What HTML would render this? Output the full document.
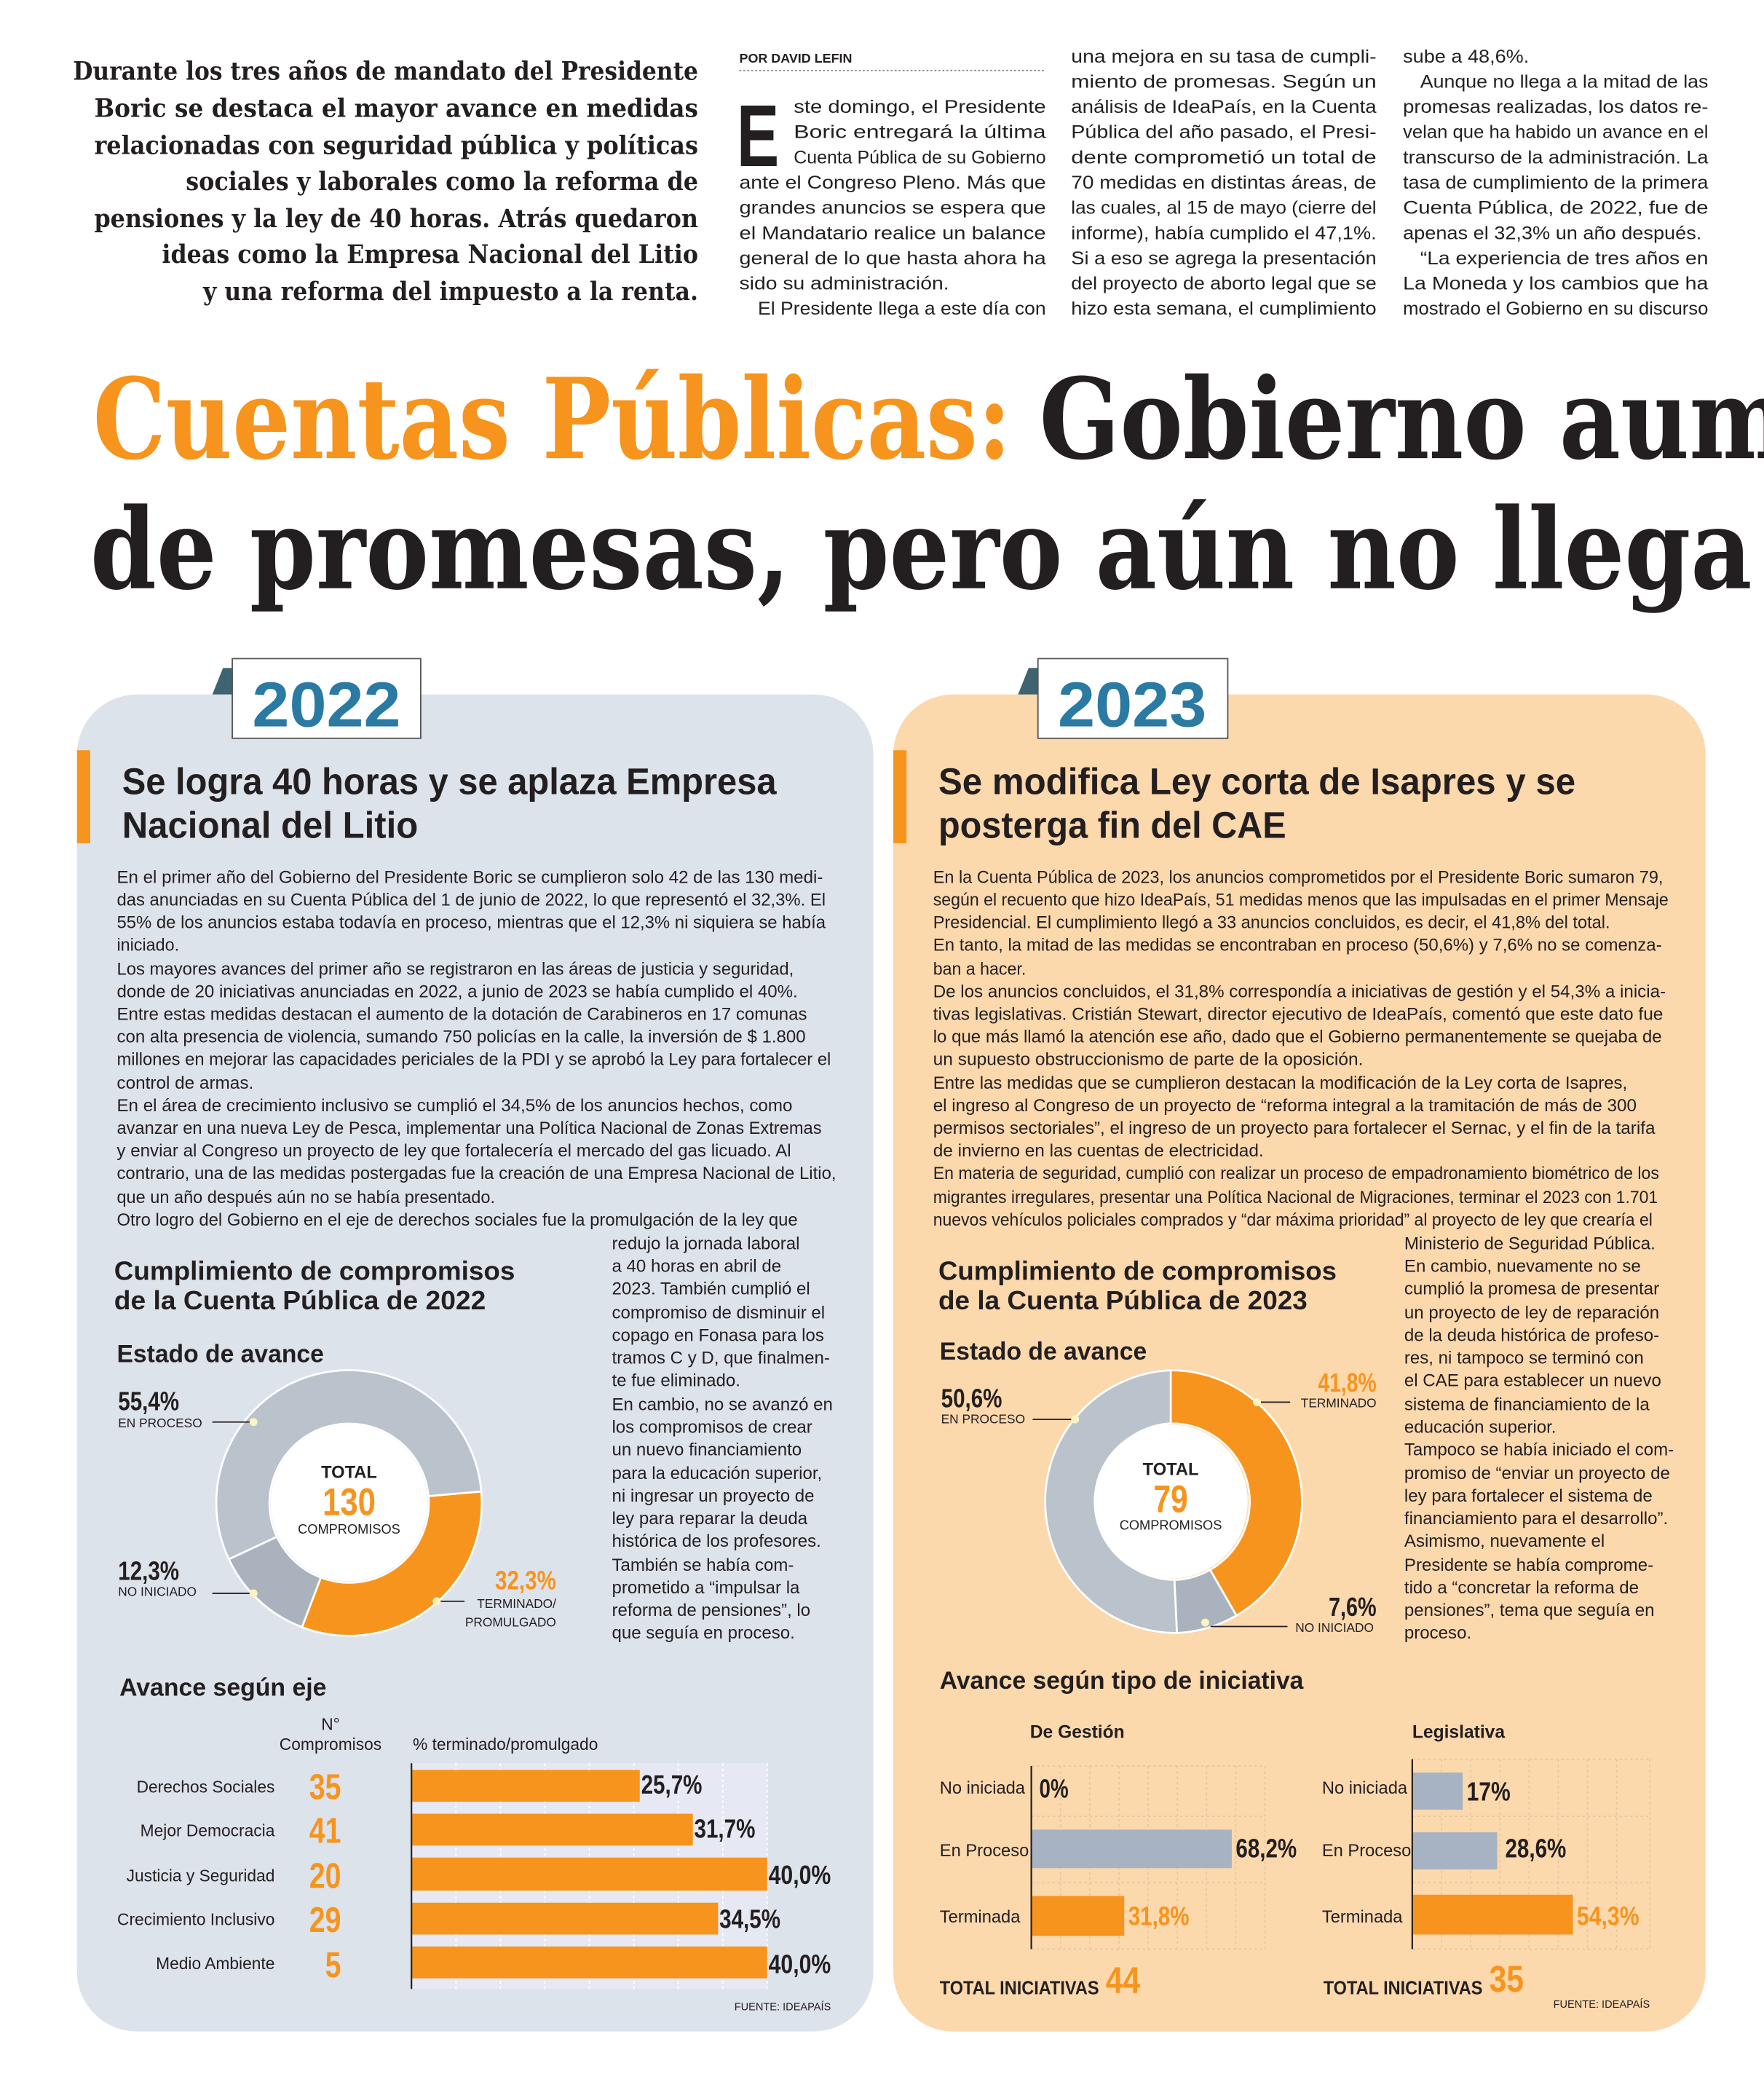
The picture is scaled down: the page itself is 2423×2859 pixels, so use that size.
<!DOCTYPE html>
<html><head><meta charset="utf-8"><style>
html,body{margin:0;padding:0;background:#fff}
svg{display:block}
.ser{font-family:"DejaVu Serif","Liberation Serif",serif;font-weight:bold}
.s{font-family:"Liberation Sans Narrow","Liberation Sans",sans-serif;fill:#231f20}
.b{font-size:13.2px}
.c{font-size:13.6px}
.h{font-weight:bold}
.o{fill:#f7941d}
</style></head><body>
<svg width="2423" height="2859" viewBox="0 0 1329 1568" xmlns="http://www.w3.org/2000/svg">
<rect width="1329" height="1568" fill="#fff"/>
<!-- intro -->
<g class="ser" font-size="19" fill="#231f20" text-anchor="end">
<text x="526" y="60" textLength="471" lengthAdjust="spacingAndGlyphs">Durante los tres años de mandato del Presidente</text>
<text x="526" y="88" textLength="455" lengthAdjust="spacingAndGlyphs">Boric se destaca el mayor avance en medidas</text>
<text x="526" y="116" textLength="455" lengthAdjust="spacingAndGlyphs">relacionadas con seguridad pública y políticas</text>
<text x="526" y="143" textLength="386" lengthAdjust="spacingAndGlyphs">sociales y laborales como la reforma de</text>
<text x="526" y="171" textLength="455" lengthAdjust="spacingAndGlyphs">pensiones y la ley de 40 horas. Atrás quedaron</text>
<text x="526" y="198" textLength="404" lengthAdjust="spacingAndGlyphs">ideas como la Empresa Nacional del Litio</text>
<text x="526" y="226" textLength="373" lengthAdjust="spacingAndGlyphs">y una reforma del impuesto a la renta.</text>
</g>
<!-- columns -->
<text class="s h" x="557" y="47" font-size="9.5" textLength="85" lengthAdjust="spacingAndGlyphs">POR DAVID LEFIN</text>
<line x1="557" y1="53" x2="788" y2="53" stroke="#888" stroke-width="1" stroke-dasharray="1.5,1.5"/>
<text class="s" x="555" y="125" font-size="66" font-weight="bold" textLength="32" lengthAdjust="spacingAndGlyphs">E</text>
<g class="s c">
<text x="598" y="85" textLength="190" lengthAdjust="spacingAndGlyphs">ste domingo, el Presidente</text>
<text x="598" y="104" textLength="190" lengthAdjust="spacingAndGlyphs">Boric entregará la última</text>
<text x="598" y="123" textLength="190" lengthAdjust="spacingAndGlyphs">Cuenta Pública de su Gobierno</text>
<text x="557" y="142" textLength="231" lengthAdjust="spacingAndGlyphs">ante el Congreso Pleno. Más que</text>
<text x="557" y="161" textLength="231" lengthAdjust="spacingAndGlyphs">grandes anuncios se espera que</text>
<text x="557" y="180" textLength="231" lengthAdjust="spacingAndGlyphs">el Mandatario realice un balance</text>
<text x="557" y="199" textLength="231" lengthAdjust="spacingAndGlyphs">general de lo que hasta ahora ha</text>
<text x="557" y="218" textLength="158" lengthAdjust="spacingAndGlyphs">sido su administración.</text>
<text x="571" y="237" textLength="217" lengthAdjust="spacingAndGlyphs">El Presidente llega a este día con</text>

<text x="807" y="47" textLength="230" lengthAdjust="spacingAndGlyphs">una mejora en su tasa de cumpli-</text>
<text x="807" y="66" textLength="230" lengthAdjust="spacingAndGlyphs">miento de promesas. Según un</text>
<text x="807" y="85" textLength="230" lengthAdjust="spacingAndGlyphs">análisis de IdeaPaís, en la Cuenta</text>
<text x="807" y="104" textLength="230" lengthAdjust="spacingAndGlyphs">Pública del año pasado, el Presi-</text>
<text x="807" y="123" textLength="230" lengthAdjust="spacingAndGlyphs">dente comprometió un total de</text>
<text x="807" y="142" textLength="230" lengthAdjust="spacingAndGlyphs">70 medidas en distintas áreas, de</text>
<text x="807" y="161" textLength="230" lengthAdjust="spacingAndGlyphs">las cuales, al 15 de mayo (cierre del</text>
<text x="807" y="180" textLength="230" lengthAdjust="spacingAndGlyphs">informe), había cumplido el 47,1%.</text>
<text x="807" y="199" textLength="230" lengthAdjust="spacingAndGlyphs">Si a eso se agrega la presentación</text>
<text x="807" y="218" textLength="230" lengthAdjust="spacingAndGlyphs">del proyecto de aborto legal que se</text>
<text x="807" y="237" textLength="230" lengthAdjust="spacingAndGlyphs">hizo esta semana, el cumplimiento</text>

<text x="1057" y="47" textLength="95" lengthAdjust="spacingAndGlyphs">sube a 48,6%.</text>
<text x="1070" y="66" textLength="217" lengthAdjust="spacingAndGlyphs">Aunque no llega a la mitad de las</text>
<text x="1057" y="85" textLength="230" lengthAdjust="spacingAndGlyphs">promesas realizadas, los datos re-</text>
<text x="1057" y="104" textLength="230" lengthAdjust="spacingAndGlyphs">velan que ha habido un avance en el</text>
<text x="1057" y="123" textLength="230" lengthAdjust="spacingAndGlyphs">transcurso de la administración. La</text>
<text x="1057" y="142" textLength="230" lengthAdjust="spacingAndGlyphs">tasa de cumplimiento de la primera</text>
<text x="1057" y="161" textLength="230" lengthAdjust="spacingAndGlyphs">Cuenta Pública, de 2022, fue de</text>
<text x="1057" y="180" textLength="225" lengthAdjust="spacingAndGlyphs">apenas el 32,3% un año después.</text>
<text x="1070" y="199" textLength="217" lengthAdjust="spacingAndGlyphs">“La experiencia de tres años en</text>
<text x="1057" y="218" textLength="230" lengthAdjust="spacingAndGlyphs">La Moneda y los cambios que ha</text>
<text x="1057" y="237" textLength="230" lengthAdjust="spacingAndGlyphs">mostrado el Gobierno en su discurso</text>
</g>
<!-- title -->
<g class="ser" font-size="84">
<text x="70" y="345" fill="#f7941d" textLength="692" lengthAdjust="spacingAndGlyphs">Cuentas Públicas:</text>
<text x="783" y="345" fill="#231f20" textLength="565" lengthAdjust="spacingAndGlyphs">Gobierno aum</text>
<text x="68" y="443" fill="#231f20" textLength="1252" lengthAdjust="spacingAndGlyphs">de promesas, pero aún no llega</text>
</g>
<!-- panels -->
<rect x="58" y="523" width="600" height="1007" rx="45" fill="#dde3eb"/>
<rect x="673" y="523" width="612" height="1007" rx="45" fill="#fcd8ad"/>
<!-- tabs -->
<polygon points="160,523 168,503 175,503 175,523" fill="#3d6470"/>
<rect x="175" y="496" width="142" height="60" fill="#fff" stroke="#555" stroke-width="1"/>
<text x="246" y="547" text-anchor="middle" font-family="Liberation Sans Narrow,Liberation Sans,sans-serif" font-weight="bold" font-size="48" fill="#2a7aa3" textLength="112" lengthAdjust="spacingAndGlyphs">2022</text>
<polygon points="767,523 775,503 782,503 782,523" fill="#3d6470"/>
<rect x="782" y="496" width="143" height="60" fill="#fff" stroke="#555" stroke-width="1"/>
<text x="853" y="547" text-anchor="middle" font-family="Liberation Sans Narrow,Liberation Sans,sans-serif" font-weight="bold" font-size="48" fill="#2a7aa3" textLength="112" lengthAdjust="spacingAndGlyphs">2023</text>
<rect x="58" y="565" width="10" height="70" fill="#f7941d"/>
<rect x="673" y="565" width="10" height="70" fill="#f7941d"/>
<!-- headings -->
<g class="s h" font-size="28">
<text x="92" y="598" textLength="493" lengthAdjust="spacingAndGlyphs">Se logra 40 horas y se aplaza Empresa</text>
<text x="92" y="631" textLength="223" lengthAdjust="spacingAndGlyphs">Nacional del Litio</text>
<text x="707" y="598" textLength="480" lengthAdjust="spacingAndGlyphs">Se modifica Ley corta de Isapres y se</text>
<text x="707" y="631" textLength="262" lengthAdjust="spacingAndGlyphs">posterga fin del CAE</text>
</g>
<!-- left body -->
<g class="s b">
<text x="88" y="665" textLength="532" lengthAdjust="spacingAndGlyphs">En el primer año del Gobierno del Presidente Boric se cumplieron solo 42 de las 130 medi-</text>
<text x="88" y="682" textLength="534" lengthAdjust="spacingAndGlyphs">das anunciadas en su Cuenta Pública del 1 de junio de 2022, lo que representó el 32,3%. El</text>
<text x="88" y="699" textLength="534" lengthAdjust="spacingAndGlyphs">55% de los anuncios estaba todavía en proceso, mientras que el 12,3% ni siquiera se había</text>
<text x="88" y="716" textLength="47" lengthAdjust="spacingAndGlyphs">iniciado.</text>
<text x="88" y="734" textLength="510" lengthAdjust="spacingAndGlyphs">Los mayores avances del primer año se registraron en las áreas de justicia y seguridad,</text>
<text x="88" y="751" textLength="513" lengthAdjust="spacingAndGlyphs">donde de 20 iniciativas anunciadas en 2022, a junio de 2023 se había cumplido el 40%.</text>
<text x="88" y="768" textLength="520" lengthAdjust="spacingAndGlyphs">Entre estas medidas destacan el aumento de la dotación de Carabineros en 17 comunas</text>
<text x="88" y="785" textLength="519" lengthAdjust="spacingAndGlyphs">con alta presencia de violencia, sumando 750 policías en la calle, la inversión de $ 1.800</text>
<text x="88" y="802" textLength="538" lengthAdjust="spacingAndGlyphs">millones en mejorar las capacidades periciales de la PDI y se aprobó la Ley para fortalecer el</text>
<text x="88" y="820" textLength="103" lengthAdjust="spacingAndGlyphs">control de armas.</text>
<text x="88" y="837" textLength="509" lengthAdjust="spacingAndGlyphs">En el área de crecimiento inclusivo se cumplió el 34,5% de los anuncios hechos, como</text>
<text x="88" y="854" textLength="531" lengthAdjust="spacingAndGlyphs">avanzar en una nueva Ley de Pesca, implementar una Política Nacional de Zonas Extremas</text>
<text x="88" y="871" textLength="508" lengthAdjust="spacingAndGlyphs">y enviar al Congreso un proyecto de ley que fortalecería el mercado del gas licuado. Al</text>
<text x="88" y="888" textLength="542" lengthAdjust="spacingAndGlyphs">contrario, una de las medidas postergadas fue la creación de una Empresa Nacional de Litio,</text>
<text x="88" y="906" textLength="285" lengthAdjust="spacingAndGlyphs">que un año después aún no se había presentado.</text>
<text x="88" y="923" textLength="513" lengthAdjust="spacingAndGlyphs">Otro logro del Gobierno en el eje de derechos sociales fue la promulgación de la ley que</text>
</g>
<g class="s b">
<text x="461" y="941">redujo la jornada laboral</text>
<text x="461" y="958">a 40 horas en abril de</text>
<text x="461" y="975">2023. También cumplió el</text>
<text x="461" y="993">compromiso de disminuir el</text>
<text x="461" y="1010">copago en Fonasa para los</text>
<text x="461" y="1027">tramos C y D, que finalmen-</text>
<text x="461" y="1044">te fue eliminado.</text>
<text x="461" y="1062">En cambio, no se avanzó en</text>
<text x="461" y="1079">los compromisos de crear</text>
<text x="461" y="1096">un nuevo financiamiento</text>
<text x="461" y="1114">para la educación superior,</text>
<text x="461" y="1131">ni ingresar un proyecto de</text>
<text x="461" y="1148">ley para reparar la deuda</text>
<text x="461" y="1165">histórica de los profesores.</text>
<text x="461" y="1183">También se había com-</text>
<text x="461" y="1200">prometido a “impulsar la</text>
<text x="461" y="1217">reforma de pensiones”, lo</text>
<text x="461" y="1234">que seguía en proceso.</text>
</g>
<!-- right body -->
<g class="s b">
<text x="703" y="665" textLength="550" lengthAdjust="spacingAndGlyphs">En la Cuenta Pública de 2023, los anuncios comprometidos por el Presidente Boric sumaron 79,</text>
<text x="703" y="682" textLength="554" lengthAdjust="spacingAndGlyphs">según el recuento que hizo IdeaPaís, 51 medidas menos que las impulsadas en el primer Mensaje</text>
<text x="703" y="699" textLength="510" lengthAdjust="spacingAndGlyphs">Presidencial. El cumplimiento llegó a 33 anuncios concluidos, es decir, el 41,8% del total.</text>
<text x="703" y="716" textLength="549" lengthAdjust="spacingAndGlyphs">En tanto, la mitad de las medidas se encontraban en proceso (50,6%) y 7,6% no se comenza-</text>
<text x="703" y="734" textLength="70" lengthAdjust="spacingAndGlyphs">ban a hacer.</text>
<text x="703" y="751" textLength="552" lengthAdjust="spacingAndGlyphs">De los anuncios concluidos, el 31,8% correspondía a iniciativas de gestión y el 54,3% a inicia-</text>
<text x="703" y="768" textLength="550" lengthAdjust="spacingAndGlyphs">tivas legislativas. Cristián Stewart, director ejecutivo de IdeaPaís, comentó que este dato fue</text>
<text x="703" y="785" textLength="549" lengthAdjust="spacingAndGlyphs">lo que más llamó la atención ese año, dado que el Gobierno permanentemente se quejaba de</text>
<text x="703" y="802" textLength="324" lengthAdjust="spacingAndGlyphs">un supuesto obstruccionismo de parte de la oposición.</text>
<text x="703" y="820" textLength="523" lengthAdjust="spacingAndGlyphs">Entre las medidas que se cumplieron destacan la modificación de la Ley corta de Isapres,</text>
<text x="703" y="837" textLength="530" lengthAdjust="spacingAndGlyphs">el ingreso al Congreso de un proyecto de “reforma integral a la tramitación de más de 300</text>
<text x="703" y="854" textLength="544" lengthAdjust="spacingAndGlyphs">permisos sectoriales”, el ingreso de un proyecto para fortalecer el Sernac, y el fin de la tarifa</text>
<text x="703" y="871" textLength="249" lengthAdjust="spacingAndGlyphs">de invierno en las cuentas de electricidad.</text>
<text x="703" y="888" textLength="547" lengthAdjust="spacingAndGlyphs">En materia de seguridad, cumplió con realizar un proceso de empadronamiento biométrico de los</text>
<text x="703" y="906" textLength="546" lengthAdjust="spacingAndGlyphs">migrantes irregulares, presentar una Política Nacional de Migraciones, terminar el 2023 con 1.701</text>
<text x="703" y="923" textLength="542" lengthAdjust="spacingAndGlyphs">nuevos vehículos policiales comprados y “dar máxima prioridad” al proyecto de ley que crearía el</text>
</g>
<g class="s b">
<text x="1058" y="941">Ministerio de Seguridad Pública.</text>
<text x="1058" y="958">En cambio, nuevamente no se</text>
<text x="1058" y="975">cumplió la promesa de presentar</text>
<text x="1058" y="993">un proyecto de ley de reparación</text>
<text x="1058" y="1010">de la deuda histórica de profeso-</text>
<text x="1058" y="1027">res, ni tampoco se terminó con</text>
<text x="1058" y="1044">el CAE para establecer un nuevo</text>
<text x="1058" y="1062">sistema de financiamiento de la</text>
<text x="1058" y="1079">educación superior.</text>
<text x="1058" y="1096">Tampoco se había iniciado el com-</text>
<text x="1058" y="1114">promiso de “enviar un proyecto de</text>
<text x="1058" y="1131">ley para fortalecer el sistema de</text>
<text x="1058" y="1148">financiamiento para el desarrollo”.</text>
<text x="1058" y="1165">Asimismo, nuevamente el</text>
<text x="1058" y="1183">Presidente se había comprome-</text>
<text x="1058" y="1200">tido a “concretar la reforma de</text>
<text x="1058" y="1217">pensiones”, tema que seguía en</text>
<text x="1058" y="1234">proceso.</text>
</g>
<!-- chart titles -->
<g class="s h" font-size="20">
<text x="86" y="964" textLength="302" lengthAdjust="spacingAndGlyphs">Cumplimiento de compromisos</text>
<text x="86" y="986" textLength="280" lengthAdjust="spacingAndGlyphs">de la Cuenta Pública de 2022</text>
<text x="707" y="964" textLength="300" lengthAdjust="spacingAndGlyphs">Cumplimiento de compromisos</text>
<text x="707" y="986" textLength="278" lengthAdjust="spacingAndGlyphs">de la Cuenta Pública de 2023</text>
</g>
<g class="s h" font-size="19">
<text x="88" y="1026" textLength="156" lengthAdjust="spacingAndGlyphs">Estado de avance</text>
<text x="708" y="1024" textLength="156" lengthAdjust="spacingAndGlyphs">Estado de avance</text>
<text x="90" y="1277" textLength="156" lengthAdjust="spacingAndGlyphs">Avance según eje</text>
<text x="708" y="1272" textLength="274" lengthAdjust="spacingAndGlyphs">Avance según tipo de iniciativa</text>
</g>
<!-- donut left -->
<g stroke="#fff" stroke-width="1.5">
<path d="M362.6,1123.3 A100,100 0 0 1 227.5,1225.5 L241.7,1188.1 A60,60 0 0 0 322.8,1126.8 Z" fill="#f7941d"/>
<path d="M227.5,1225.5 A100,100 0 0 1 172.4,1174.3 L208.6,1157.4 A60,60 0 0 0 241.7,1188.1 Z" fill="#aab3bd"/>
<path d="M172.4,1174.3 A100,100 0 1 1 362.6,1123.3 L322.8,1126.8 A60,60 0 1 0 208.6,1157.4 Z" fill="#bac2cb"/>
</g>
<circle cx="263" cy="1132" r="59" fill="#fff"/>
<!-- donut right -->
<g stroke="#fff" stroke-width="1.5">
<path d="M882,1032 A99,99 0 0 1 931.5,1216.7 L911.7,1182.3 A59,59 0 0 0 882,1072 Z" fill="#f7941d"/>
<path d="M931.5,1216.7 A99,99 0 0 1 886.7,1229.9 L884.8,1189.9 A59,59 0 0 0 911.7,1182.3 Z" fill="#aab3bd"/>
<path d="M886.7,1229.9 A99,99 0 0 1 882,1032 L882,1072 A59,59 0 0 0 884.8,1189.9 Z" fill="#bac2cb"/>
</g>
<circle cx="882" cy="1131" r="58" fill="#fff"/>
<g font-family="Liberation Sans Narrow,Liberation Sans,sans-serif" text-anchor="middle">
<text x="263" y="1113" font-size="13" font-weight="bold" fill="#231f20">TOTAL</text>
<text x="263" y="1141" font-size="29" font-weight="bold" fill="#f7941d" textLength="40" lengthAdjust="spacingAndGlyphs">130</text>
<text x="263" y="1155" font-size="10" fill="#231f20">COMPROMISOS</text>
<text x="882" y="1111" font-size="13" font-weight="bold" fill="#231f20">TOTAL</text>
<text x="882" y="1139" font-size="29" font-weight="bold" fill="#f7941d" textLength="26" lengthAdjust="spacingAndGlyphs">79</text>
<text x="882" y="1152" font-size="10" fill="#231f20">COMPROMISOS</text>
</g>
<!-- donut left labels -->
<g class="s">
<text x="89" y="1062" font-size="20" font-weight="bold" textLength="46" lengthAdjust="spacingAndGlyphs">55,4%</text>
<text x="89" y="1075" font-size="9.5">EN PROCESO</text>
<text x="89" y="1190" font-size="20" font-weight="bold" textLength="46" lengthAdjust="spacingAndGlyphs">12,3%</text>
<text x="89" y="1202" font-size="9.5">NO INICIADO</text>
<text x="419" y="1197" font-size="20" font-weight="bold" text-anchor="end" textLength="46" lengthAdjust="spacingAndGlyphs" style="fill:#f7941d">32,3%</text>
<text x="419" y="1211" font-size="9.5" text-anchor="end">TERMINADO/</text>
<text x="419" y="1225" font-size="9.5" text-anchor="end">PROMULGADO</text>
</g>
<g stroke="#231f20" stroke-width="1"><line x1="160" y1="1071" x2="190" y2="1071"/><line x1="160" y1="1200" x2="190" y2="1200"/><line x1="330" y1="1206" x2="350" y2="1206"/></g>
<g fill="#fff3c4"><circle cx="191" cy="1071" r="3"/><circle cx="191" cy="1200" r="3"/><circle cx="329" cy="1206" r="3"/></g>
<g class="s">
<text x="709" y="1060" font-size="20" font-weight="bold" textLength="46" lengthAdjust="spacingAndGlyphs">50,6%</text>
<text x="709" y="1072" font-size="9.5">EN PROCESO</text>
<text x="1037" y="1048" font-size="20" font-weight="bold" text-anchor="end" style="fill:#f7941d" textLength="44" lengthAdjust="spacingAndGlyphs">41,8%</text>
<text x="1037" y="1060" font-size="9.5" text-anchor="end">TERMINADO</text>
<text x="1037" y="1217" font-size="20" font-weight="bold" text-anchor="end" textLength="36" lengthAdjust="spacingAndGlyphs">7,6%</text>
<text x="1035" y="1229" font-size="9.5" text-anchor="end">NO INICIADO</text>
</g>
<g stroke="#231f20" stroke-width="1"><line x1="778" y1="1069" x2="809" y2="1069"/><line x1="950" y1="1056" x2="972" y2="1056"/><line x1="912" y1="1225" x2="970" y2="1225"/></g>
<g fill="#fff3c4"><circle cx="810" cy="1069" r="3"/><circle cx="947" cy="1056" r="3"/><circle cx="908" cy="1222" r="3"/></g>
<!-- bar chart left -->
<rect x="310" y="1328" width="268" height="170" fill="#e6e8f3"/>
<g stroke="#fff" stroke-width="1" stroke-dasharray="2,2">
<line x1="343.5" y1="1328" x2="343.5" y2="1498"/><line x1="377" y1="1328" x2="377" y2="1498"/><line x1="410.5" y1="1328" x2="410.5" y2="1498"/><line x1="444" y1="1328" x2="444" y2="1498"/><line x1="477.5" y1="1328" x2="477.5" y2="1498"/><line x1="511" y1="1328" x2="511" y2="1498"/><line x1="544.5" y1="1328" x2="544.5" y2="1498"/><line x1="578" y1="1328" x2="578" y2="1498"/>
</g>
<g fill="#f7941d">
<rect x="310" y="1333" width="172" height="24"/>
<rect x="310" y="1366" width="212" height="24"/>
<rect x="310" y="1399" width="268" height="25"/>
<rect x="310" y="1433" width="231" height="24"/>
<rect x="310" y="1466" width="268" height="24"/>
</g>
<line x1="310" y1="1328" x2="310" y2="1498" stroke="#231f20" stroke-width="1.2"/>
<g class="s" font-size="12.5" text-anchor="end">
<text x="207" y="1350">Derechos Sociales</text>
<text x="207" y="1383">Mejor Democracia</text>
<text x="207" y="1417">Justicia y Seguridad</text>
<text x="207" y="1450">Crecimiento Inclusivo</text>
<text x="207" y="1483">Medio Ambiente</text>
</g>
<g class="s" font-size="12.5" text-anchor="middle">
<text x="249" y="1303">N°</text>
<text x="249" y="1318">Compromisos</text>
</g>
<text class="s" x="311" y="1318" font-size="12.5">% terminado/promulgado</text>
<g font-family="Liberation Sans Narrow,Liberation Sans,sans-serif" font-weight="bold" font-size="27" fill="#f7941d" text-anchor="middle">
<text x="245" y="1355" textLength="24" lengthAdjust="spacingAndGlyphs">35</text>
<text x="245" y="1388" textLength="24" lengthAdjust="spacingAndGlyphs">41</text>
<text x="245" y="1422" textLength="24" lengthAdjust="spacingAndGlyphs">20</text>
<text x="245" y="1455" textLength="24" lengthAdjust="spacingAndGlyphs">29</text>
<text x="251" y="1489" textLength="12" lengthAdjust="spacingAndGlyphs">5</text>
</g>
<g class="s h" font-size="20">
<text x="483" y="1351" textLength="46" lengthAdjust="spacingAndGlyphs">25,7%</text>
<text x="523" y="1384" textLength="46" lengthAdjust="spacingAndGlyphs">31,7%</text>
<text x="579" y="1419" textLength="47" lengthAdjust="spacingAndGlyphs">40,0%</text>
<text x="542" y="1452" textLength="46" lengthAdjust="spacingAndGlyphs">34,5%</text>
<text x="579" y="1486" textLength="47" lengthAdjust="spacingAndGlyphs">40,0%</text>
</g>
<text class="s" x="626" y="1514" font-size="8" text-anchor="end">FUENTE: IDEAPAÍS</text>
<!-- right bar charts -->
<g class="s h" font-size="13.5">
<text x="776" y="1309">De Gestión</text>
<text x="1064" y="1309">Legislativa</text>
</g>
<g stroke="#e8c8a3" stroke-width="1" stroke-dasharray="2,2">
<line x1="777" y1="1330" x2="953" y2="1330"/><line x1="777" y1="1468" x2="953" y2="1468"/><line x1="777" y1="1368" x2="953" y2="1368"/><line x1="777" y1="1418" x2="953" y2="1418"/>
<line x1="799" y1="1330" x2="799" y2="1468"/><line x1="821" y1="1330" x2="821" y2="1468"/><line x1="843" y1="1330" x2="843" y2="1468"/><line x1="865" y1="1330" x2="865" y2="1468"/><line x1="887" y1="1330" x2="887" y2="1468"/><line x1="909" y1="1330" x2="909" y2="1468"/><line x1="931" y1="1330" x2="931" y2="1468"/><line x1="953" y1="1330" x2="953" y2="1468"/>
<line x1="1064" y1="1325" x2="1243" y2="1325"/><line x1="1064" y1="1468" x2="1243" y2="1468"/><line x1="1064" y1="1368" x2="1243" y2="1368"/><line x1="1064" y1="1418" x2="1243" y2="1418"/>
<line x1="1086" y1="1325" x2="1086" y2="1468"/><line x1="1108" y1="1325" x2="1108" y2="1468"/><line x1="1130" y1="1325" x2="1130" y2="1468"/><line x1="1152" y1="1325" x2="1152" y2="1468"/><line x1="1174" y1="1325" x2="1174" y2="1468"/><line x1="1196" y1="1325" x2="1196" y2="1468"/><line x1="1218" y1="1325" x2="1218" y2="1468"/><line x1="1243" y1="1325" x2="1243" y2="1468"/>
</g>
<rect x="777" y="1378" width="151" height="29" fill="#a7b3c2"/>
<rect x="777" y="1428" width="70" height="30" fill="#f7941d"/>
<rect x="1064" y="1335" width="38" height="28" fill="#a7b3c2"/>
<rect x="1064" y="1380" width="64" height="28" fill="#a7b3c2"/>
<rect x="1064" y="1427" width="121" height="30" fill="#f7941d"/>
<line x1="777" y1="1330" x2="777" y2="1468" stroke="#231f20" stroke-width="1.2"/>
<line x1="1064" y1="1325" x2="1064" y2="1468" stroke="#231f20" stroke-width="1.2"/>
<g class="s" font-size="13">
<text x="708" y="1351">No iniciada</text><text x="708" y="1398">En Proceso</text><text x="708" y="1448">Terminada</text>
<text x="996" y="1351">No iniciada</text><text x="996" y="1398">En Proceso</text><text x="996" y="1448">Terminada</text>
</g>
<g class="s h" font-size="20">
<text x="783" y="1354" textLength="22" lengthAdjust="spacingAndGlyphs">0%</text>
<text x="931" y="1399" textLength="46" lengthAdjust="spacingAndGlyphs">68,2%</text>
<text x="850" y="1450" textLength="46" lengthAdjust="spacingAndGlyphs" style="fill:#f7941d">31,8%</text>
<text x="1105" y="1356" textLength="33" lengthAdjust="spacingAndGlyphs">17%</text>
<text x="1134" y="1399" textLength="46" lengthAdjust="spacingAndGlyphs">28,6%</text>
<text x="1188" y="1450" textLength="47" lengthAdjust="spacingAndGlyphs" style="fill:#f7941d">54,3%</text>
</g>
<g class="s h" font-size="14">
<text x="708" y="1502" textLength="120" lengthAdjust="spacingAndGlyphs">TOTAL INICIATIVAS</text>
<text x="997" y="1502" textLength="120" lengthAdjust="spacingAndGlyphs">TOTAL INICIATIVAS</text>
</g>
<g font-family="Liberation Sans Narrow,Liberation Sans,sans-serif" font-weight="bold" font-size="28" fill="#f7941d">
<text x="833" y="1501" textLength="26" lengthAdjust="spacingAndGlyphs">44</text>
<text x="1122" y="1500" textLength="26" lengthAdjust="spacingAndGlyphs">35</text>
</g>
<text class="s" x="1243" y="1512" font-size="8" text-anchor="end">FUENTE: IDEAPAÍS</text>
</svg>
</body></html>
